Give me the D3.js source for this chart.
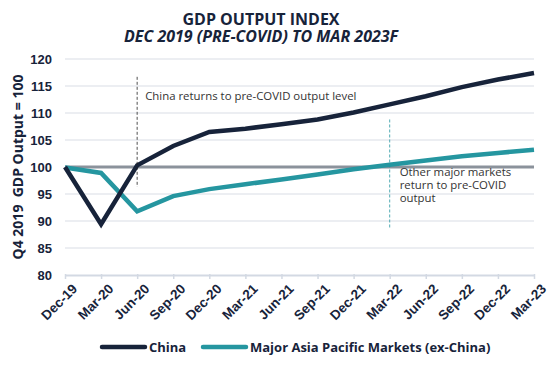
<!DOCTYPE html>
<html>
<head>
<meta charset="utf-8">
<script src="https://cdn.jsdelivr.net/npm/d3@7"></script>
<style>
  body { margin: 0; background: #fff; }
  svg { font-family: "Open Sans", sans-serif; }
</style>
</head>
<body>
<svg id="gdp-chart" width="548" height="376"></svg>
<script>
(function () {
  const quarters = ["Dec-19", "Mar-20", "Jun-20", "Sep-20", "Dec-20", "Mar-21", "Jun-21",
    "Sep-21", "Dec-21", "Mar-22", "Jun-22", "Sep-22", "Dec-22", "Mar-23"];
  const china = [100, 89.4, 100.3, 103.9, 106.5, 107.1, 107.9, 108.8, 110.1, 111.6, 113.1, 114.8, 116.2, 117.4];
  const asiaPac = [99.9, 98.9, 91.8, 94.6, 95.9, 96.8, 97.7, 98.6, 99.6, 100.4, 101.2, 102.0, 102.6, 103.2];
  const yTicks = [80, 85, 90, 95, 100, 105, 110, 115, 120];
  const baseline = 100;

  const navy = "#17233a", teal = "#2596a0";

  const svg = d3.select("#gdp-chart"),
    margin = { top: 59, right: 14, bottom: 101, left: 65 },
    width = +svg.attr("width") - margin.left - margin.right,
    height = +svg.attr("height") - margin.top - margin.bottom;

  const chart = svg.append("g").attr("transform", `translate(${margin.left},${margin.top})`);

  const x = d3.scalePoint().domain(quarters).range([0, width]);
  const y = d3.scaleLinear().domain([80, 120]).range([height, 0]);

  // gridlines
  chart.append("g")
    .selectAll("line")
    .data(yTicks.filter(d => d > 80))
    .enter().append("line")
    .attr("x1", 0).attr("x2", width)
    .attr("y1", d => y(d)).attr("y2", d => y(d))
    .attr("stroke", "#e6e8ee").attr("stroke-width", 1.5);

  // y labels
  const yAxis = chart.append("g")
    .call(d3.axisLeft(y).tickValues(yTicks).tickSize(0).tickPadding(13));
  yAxis.select(".domain").remove();
  yAxis.selectAll("text")
    .style("font-size", "13px").style("font-weight", "bold").attr("fill", navy);

  // x axis
  const xAxis = chart.append("g")
    .attr("transform", `translate(0,${height})`)
    .call(d3.axisBottom(x).tickSize(5).tickSizeOuter(0));
  xAxis.select(".domain").attr("stroke", "#d3d9e3").attr("stroke-width", 2);
  xAxis.selectAll(".tick line").attr("stroke", "#d3d9e3").attr("stroke-width", 1.5)
    .attr("y1", -1).attr("y2", 4);
  xAxis.selectAll("text")
    .style("font-size", "13.5px").style("font-weight", "bold").attr("fill", navy)
    .attr("text-anchor", "end")
    .attr("transform", "translate(6,8) rotate(-45)")
    .attr("dy", "0.7em").attr("y", 0);

  // baseline 100
  chart.append("line")
    .attr("x1", 0).attr("x2", width)
    .attr("y1", y(baseline)).attr("y2", y(baseline))
    .attr("stroke", "#8b929b").attr("stroke-width", 3);

  const line = d3.line()
    .x((d, i) => x(quarters[i]))
    .y(d => y(d));

  chart.append("path")
    .datum(asiaPac)
    .attr("fill", "none").attr("stroke", teal).attr("stroke-width", 4.5)
    .attr("d", line);

  chart.append("path")
    .datum(china)
    .attr("fill", "none").attr("stroke", navy).attr("stroke-width", 4.5)
    .attr("d", line);

  // annotations
  chart.append("line")
    .attr("x1", x("Jun-20")).attr("x2", x("Jun-20"))
    .attr("y1", y(116.7)).attr("y2", y(96.3))
    .attr("stroke", "#222").attr("stroke-width", 0.8).attr("stroke-dasharray", "3,2");
  chart.append("text")
    .attr("x", x("Jun-20") + 8).attr("y", y(112.5))
    .style("font-size", "11.4px").attr("fill", "#333")
    .text("China returns to pre-COVID output level");

  chart.append("line")
    .attr("x1", x("Mar-22")).attr("x2", x("Mar-22"))
    .attr("y1", y(108.8)).attr("y2", y(88.6))
    .attr("stroke", teal).attr("stroke-width", 0.8).attr("stroke-dasharray", "3,2");
  chart.append("text")
    .attr("x", x("Mar-22") + 10).attr("y", y(98.3))
    .style("font-size", "11.4px").attr("fill", "#333")
    .selectAll("tspan")
    .data(["Other major markets", "return to pre-COVID", "output"])
    .enter().append("tspan")
    .attr("x", x("Mar-22") + 10)
    .attr("dy", (d, i) => i === 0 ? 0 : 12.7)
    .text(d => d);

  // y axis title
  svg.append("text")
    .attr("transform", `translate(23,${y(100) + margin.top}) rotate(-90)`)
    .attr("text-anchor", "middle")
    .style("font-size", "14px").style("font-weight", "bold").attr("fill", navy)
    .attr("xml:space", "preserve")
    .text("Q4 2019  GDP Output = 100");

  // titles
  svg.append("text")
    .attr("x", 261).attr("y", 25)
    .attr("text-anchor", "middle")
    .style("font-size", "16px").style("font-weight", "bold").attr("fill", navy)
    .text("GDP OUTPUT INDEX");
  svg.append("text")
    .attr("x", 261).attr("y", 42)
    .attr("text-anchor", "middle")
    .style("font-size", "16px").style("font-weight", "bold").style("font-style", "italic").attr("fill", navy)
    .text("DEC 2019 (PRE-COVID) TO MAR 2023F");

  // legend
  const legendItems = [
    { name: "China", color: navy, x: 102 },
    { name: "Major Asia Pacific Markets (ex-China)", color: teal, x: 203 }
  ];
  const legend = svg.selectAll(".legend")
    .data(legendItems)
    .enter().append("g")
    .attr("class", "legend")
    .attr("transform", d => `translate(${d.x},347)`);
  legend.append("line")
    .attr("x1", 0).attr("x2", 43)
    .attr("stroke", d => d.color).attr("stroke-width", 4.5).attr("stroke-linecap", "round");
  legend.append("text")
    .attr("x", 47).attr("dy", "0.35em")
    .style("font-size", "13px").style("font-weight", "bold").attr("fill", navy)
    .text(d => d.name);
})();
</script>
</body>
</html>
